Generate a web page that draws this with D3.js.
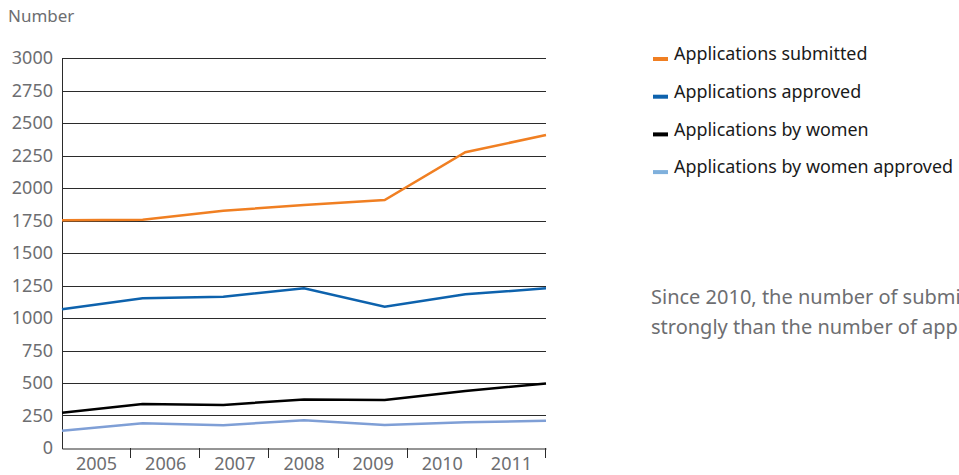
<!DOCTYPE html>
<html>
<head>
<meta charset="utf-8">
<script src="https://cdn.jsdelivr.net/npm/d3@7"></script>
<style>
  body { margin: 0; background: #fff; overflow: hidden; }
  svg { display: block; font-family: "Noto Sans", sans-serif; }
</style>
</head>
<body>
<div id="chart"></div>
<script>
// data
const years = ['2005', '2006', '2007', '2008', '2009', '2010', '2011'];
const submitted = [1752, 1755, 1825, 1870, 1908, 2275, 2408];
const approved = [1067, 1152, 1164, 1228, 1087, 1182, 1228];
const byWomen = [272, 338, 331, 374, 369, 438, 497];
const byWomenApproved = [133, 190, 175, 213, 177, 198, 210];
const yTicks = [0, 250, 500, 750, 1000, 1250, 1500, 1750, 2000, 2250, 2500, 2750, 3000];

const seriesNames = ['Applications submitted', 'Applications approved', 'Applications by women', 'Applications by women approved'];
const seriesValues = [submitted, approved, byWomen, byWomenApproved];
const lineColors = ['#f07f22', '#0d62ad', '#000000', '#7f9fd6'];
const swatchColors = ['#f07f22', '#0d62ad', '#000000', '#7fb0dc'];

const width = 959, height = 475;
const plotLeft = 62, plotRight = 546, plotTop = 58, plotBottom = 448;

const svg = d3.select('#chart').append('svg')
  .attr('width', width)
  .attr('height', height);

// y-achse
const y = d3.scaleLinear().domain([0, 3000]).range([plotBottom, plotTop]);
// Kategorien für die Beschriftung (Bänder) und Punkte für die Linien
const xBand = d3.scaleBand().domain(years).range([plotLeft, plotRight]);
const xPoint = d3.scalePoint().domain(years).range([plotLeft, plotRight]);

// Gitterlinien
svg.append('g')
  .selectAll('line')
  .data(yTicks.filter(d => d > 0))
  .enter()
  .append('line')
  .attr('x1', plotLeft)
  .attr('x2', plotRight)
  .attr('y1', d => Math.round(y(d)) + 0.5)
  .attr('y2', d => Math.round(y(d)) + 0.5)
  .attr('stroke', '#2b2b2b')
  .attr('stroke-width', 1);

// y-Beschriftung
svg.append('g')
  .selectAll('text')
  .data(yTicks)
  .enter()
  .append('text')
  .attr('x', 53)
  .attr('y', d => y(d))
  .attr('dy', '0.35em')
  .attr('text-anchor', 'end')
  .attr('fill', '#6d6e71')
  .attr('font-size', '18px')
  .text(d => d);

// x-Achse
const xAxis = svg.append('g')
  .attr('transform', `translate(0,${plotBottom + 0.5})`)
  .call(d3.axisBottom(xBand).tickSize(0).tickPadding(9));
xAxis.select('.domain').attr('stroke', '#2b2b2b');
xAxis.selectAll('text')
  .attr('fill', '#6d6e71')
  .attr('font-size', '18px')
  .attr('font-family', '"Noto Sans", sans-serif');

// Trennstriche zwischen den Jahren
svg.append('g')
  .selectAll('line')
  .data(years)
  .enter()
  .append('line')
  .attr('x1', d => Math.round(xBand(d) + xBand.bandwidth()) - 0.5)
  .attr('x2', d => Math.round(xBand(d) + xBand.bandwidth()) - 0.5)
  .attr('y1', plotBottom)
  .attr('y2', plotBottom + 10)
  .attr('stroke', '#2b2b2b');

// linke Achse
svg.append('line')
  .attr('x1', plotLeft + 0.5)
  .attr('x2', plotLeft + 0.5)
  .attr('y1', plotTop)
  .attr('y2', plotBottom + 1)
  .attr('stroke', '#2b2b2b');

// Linien
const line = d3.line()
  .x((d, i) => xPoint(years[i]))
  .y(d => y(d));

svg.append('g')
  .selectAll('path')
  .data(seriesValues)
  .enter()
  .append('path')
  .attr('d', d => line(d))
  .attr('fill', 'none')
  .attr('stroke', (d, i) => lineColors[i])
  .attr('stroke-width', 2.5);

// Legende
const legend = svg.append('g')
  .selectAll('g')
  .data(seriesNames)
  .enter()
  .append('g')
  .attr('transform', (d, i) => `translate(653,${54 + i * 37.7})`);

legend.append('rect')
  .attr('x', 0)
  .attr('y', 3)
  .attr('width', 15)
  .attr('height', 4)
  .attr('fill', (d, i) => swatchColors[i]);

legend.append('text')
  .attr('x', 21)
  .attr('y', 0)
  .attr('dy', '0.35em')
  .attr('fill', '#1a1a1a')
  .attr('font-size', '17.9px')
  .text(d => d);

// Titel der y-Achse
svg.append('text')
  .attr('x', 8)
  .attr('y', 22)
  .attr('fill', '#6d6e71')
  .attr('font-size', '17px')
  .text('Number');

// Anmerkung (rechts abgeschnitten wie im Original)
const note = ['Since 2010, the number of submitted applications has increased more',
  'strongly than the number of approved applications.'];
svg.append('g')
  .selectAll('text')
  .data(note)
  .enter()
  .append('text')
  .attr('x', 651)
  .attr('y', (d, i) => 304 + i * 30)
  .attr('fill', '#6d6e71')
  .attr('font-size', '20px')
  .text(d => d);
</script>
</body>
</html>
